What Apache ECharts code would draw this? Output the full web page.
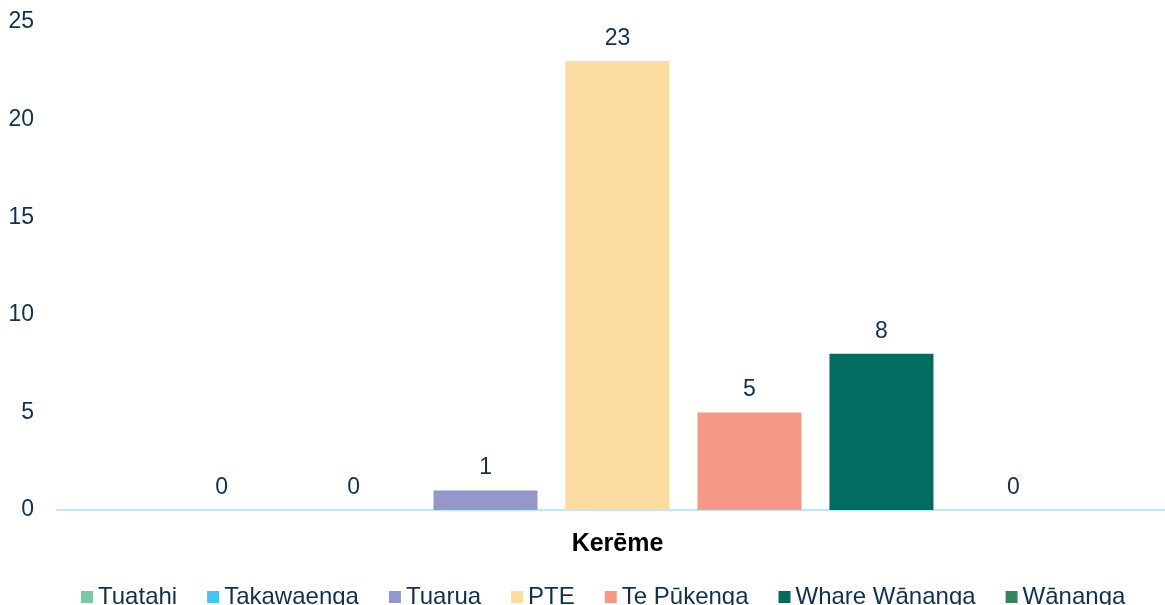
<!DOCTYPE html>
<html>
<head>
	<meta charset="utf-8">
	<script src="https://cdn.jsdelivr.net/npm/echarts@6/dist/echarts.min.js"></script>
	<style>
		html, body { margin: 0; padding: 0; background: #fff; overflow: hidden; }
		#chart { width: 1180px; height: 605px; }
	</style>
</head>
<body>
	<div id="chart"></div>
	<script>
		// data
		var categories = ['Kerēme'];
		var seriesNames = ['Tuatahi', 'Takawaenga', 'Tuarua', 'PTE', 'Te Pūkenga', 'Whare Wānanga', 'Wānanga'];
		var seriesValues = [0, 0, 1, 23, 5, 8, 0];
		var seriesColors = ['#7ac9a5', '#45c5ec', '#9497c9', '#fddca0', '#f69886', '#026c63', '#358660'];
		var yTicks = [0, 5, 10, 15, 20, 25];

		var textColor = '#12304a';
		var font = '"Liberation Sans", Arial, sans-serif';

		var series = seriesNames.map(function (name, i) {
			return {
				name: name,
				type: 'bar',
				barWidth: 104,
				barGap: '26.9%',
				data: [seriesValues[i]],
				itemStyle: { color: seriesColors[i] },
				label: {
					show: true,
					position: 'top',
					distance: 11,
					color: textColor,
					fontFamily: font,
					fontSize: 23
				}
			};
		});

		// chart is a bit wider than the window so the category band centre lands where the original has it
		var chart = echarts.init(document.getElementById('chart'), null, { renderer: 'canvas' });
		chart.setOption({
			animation: false,
			textStyle: { fontFamily: font },
			grid: { left: 57, top: 22, width: 1121, height: 488, containLabel: false },
			legend: {
				data: seriesNames,
				left: 76,
				top: 580,
				icon: 'rect',
				itemWidth: 12,
				itemHeight: 12,
				itemGap: 30,
				textStyle: { color: textColor, fontSize: 24, fontFamily: font }
			},
			xAxis: {
				type: 'category',
				data: categories,
				axisLine: { lineStyle: { color: '#bfe9f7', width: 2 } },
				axisTick: { show: false },
				axisLabel: { color: '#000', fontWeight: 'bold', fontSize: 25, fontFamily: font, margin: 22 }
			},
			yAxis: {
				type: 'value',
				min: yTicks[0],
				max: yTicks[yTicks.length - 1],
				interval: 5,
				splitLine: { show: false },
				axisLine: { show: false },
				axisTick: { show: false },
				axisLabel: { color: textColor, fontSize: 23, fontFamily: font, margin: 23 }
			},
			series: series
		});
	</script>
</body>
</html>
